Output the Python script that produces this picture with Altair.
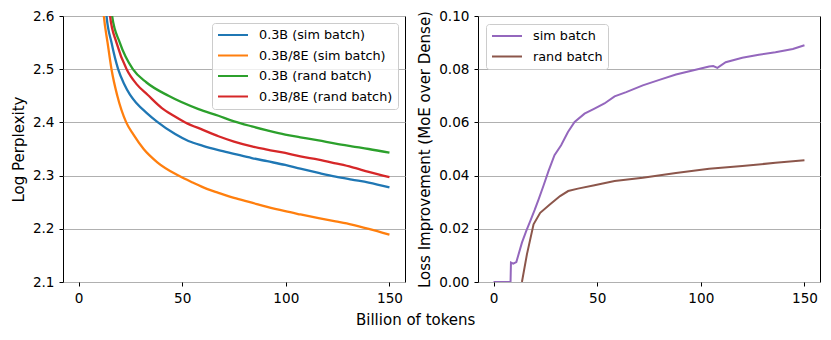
import altair as alt
import pandas as pd

# ---------------- Left panel: Log Perplexity ----------------
left_series = ["0.3B (sim batch)", "0.3B/8E (sim batch)", "0.3B (rand batch)", "0.3B/8E (rand batch)"]
left_colors = ["#1f77b4", "#ff7f0e", "#2ca02c", "#d62728"]

blue_x = [12.3, 13.5, 15.9, 19.1, 22.0, 24.8, 28.0, 32.8, 38.0, 46.6, 53, 60, 67.5, 75, 83.6, 91, 99.7, 107, 115.8, 124, 131.8, 140, 150]
blue_y = [2.66, 2.6, 2.55, 2.5, 2.472, 2.452, 2.436, 2.418, 2.401, 2.378, 2.365, 2.356, 2.348, 2.341, 2.333, 2.327, 2.32, 2.313, 2.305, 2.298, 2.2925, 2.287, 2.278]

orange_x = [11.0, 12.2, 14.0, 15.9, 18.7, 23.0, 26.5, 31.4, 38, 48.2, 55, 61.9, 67.5, 75, 83.6, 91, 99.7, 107, 115.8, 124, 131.8, 140, 150]
orange_y = [2.66, 2.6, 2.55, 2.5, 2.45, 2.4, 2.377, 2.35, 2.325, 2.3, 2.287, 2.275, 2.2675, 2.258, 2.249, 2.241, 2.233, 2.227, 2.22, 2.214, 2.208, 2.2, 2.189]

green_x = [15.0, 16.2, 19.9, 26.2, 32.8, 43.4, 57.9, 67.5, 75, 83.6, 91, 99.7, 107, 115.8, 124, 131.8, 140, 150]
green_y = [2.66, 2.6, 2.55, 2.5, 2.475, 2.45, 2.425, 2.4125, 2.402, 2.3925, 2.385, 2.377, 2.372, 2.366, 2.36, 2.355, 2.35, 2.343]

red_x = [13.9, 15.2, 18.3, 23.2, 28.0, 33.3, 40.2, 45.7, 51.5, 60, 67.5, 75, 83.6, 91, 99.7, 107, 115.8, 124, 131.8, 140, 150]
red_y = [2.66, 2.6, 2.55, 2.5, 2.472, 2.452, 2.427, 2.413, 2.4, 2.386, 2.374, 2.364, 2.355, 2.349, 2.3425, 2.336, 2.33, 2.323, 2.316, 2.307, 2.297]

# ---------------- Right panel: Loss improvement ----------------
right_series = ["sim batch", "rand batch"]
right_colors = ["#9467bd", "#8c564b"]

sim_x = [0, 8.2, 8.4, 9.5, 11.0, 13.7, 15.7, 17.7, 19.8, 21.7, 24.0, 26.5, 29.4, 32.6, 35.9, 39.1, 43.9, 48.7, 53.5, 58.4, 64, 72, 80, 88, 96, 104, 106, 108, 112, 120, 128, 136, 144.4, 150]
sim_y = [0, 0, 0.0073, 0.0069, 0.0075, 0.0148, 0.019, 0.0229, 0.027, 0.031, 0.036, 0.0417, 0.0477, 0.0514, 0.0564, 0.0602, 0.0633, 0.0652, 0.0671, 0.0698, 0.0714, 0.0739, 0.076, 0.078, 0.0795, 0.081, 0.0812, 0.0805, 0.0826, 0.0843, 0.0854, 0.0864, 0.0876, 0.089]

rand_x = [13.7, 16.1, 19.3, 22.5, 27.3, 32.1, 36.0, 40.7, 48.7, 58.4, 72, 88, 104, 120, 136, 150]
rand_y = [0.0, 0.0104, 0.0217, 0.026, 0.0292, 0.0323, 0.0342, 0.0351, 0.0364, 0.038, 0.0392, 0.041, 0.0426, 0.0436, 0.0448, 0.0458]

x_ticks = [0, 50, 100, 150]
left_y_ticks = [2.1, 2.2, 2.3, 2.4, 2.5, 2.6]
right_y_ticks = [0.0, 0.02, 0.04, 0.06, 0.08, 0.10]


def frame(name, xs, ys, order):
    return pd.DataFrame({"x": xs, "y": ys, "series": name, "k": order})


left_df = pd.concat([
    frame(left_series[0], blue_x, blue_y, 0),
    frame(left_series[1], orange_x, orange_y, 1),
    frame(left_series[2], green_x, green_y, 2),
    frame(left_series[3], red_x, red_y, 3),
], ignore_index=True)

right_df = pd.concat([
    frame(right_series[0], sim_x, sim_y, 0),
    frame(right_series[1], rand_x, rand_y, 1),
], ignore_index=True)

FONT = "DejaVu Sans"

legend_common = dict(
    title=None,
    symbolType="stroke",
    symbolSize=900,
    symbolStrokeWidth=2,
    labelFont=FONT,
    labelFontSize=12.8,
    labelColor="black",
    labelOffset=10,
    fillColor="rgba(255,255,255,0.8)",
    strokeColor="#cccccc",
    cornerRadius=3,
    padding=5,
    rowPadding=6.5,
    clipHeight=14,
)


def xenc():
    return alt.X("x:Q",
                 scale=alt.Scale(domain=[-7.5, 157.5], nice=False, zero=False),
                 axis=alt.Axis(values=x_ticks, format="d", title=None, grid=False))


left = alt.Chart(left_df).mark_line(strokeWidth=2.3, clip=True, interpolate="monotone").encode(
    x=xenc(),
    y=alt.Y("y:Q",
            scale=alt.Scale(domain=[2.1, 2.6], nice=False, zero=False),
            axis=alt.Axis(values=left_y_ticks, format=".1f", title="Log Perplexity", grid=True)),
    color=alt.Color("series:N",
                    scale=alt.Scale(domain=left_series, range=left_colors),
                    legend=alt.Legend(orient="top-right", offset=7, **legend_common)),
    detail="k:N",
).properties(width=342, height=266)

right = alt.Chart(right_df).mark_line(strokeWidth=2, clip=True).encode(
    x=xenc(),
    y=alt.Y("y:Q",
            scale=alt.Scale(domain=[0, 0.1], nice=False, zero=False),
            axis=alt.Axis(values=right_y_ticks, format=".2f",
                          title="Loss Improvement (MoE over Dense)", grid=True)),
    color=alt.Color("series:N",
                    scale=alt.Scale(domain=right_series, range=right_colors),
                    legend=alt.Legend(orient="top-left", offset=8, **legend_common)),
    detail="k:N",
).properties(width=342, height=266)

chart = alt.hconcat(left, right, spacing=11).resolve_scale(color="independent").properties(
    title=alt.TitleParams("Billion of tokens", orient="bottom", anchor="middle",
                          font=FONT, fontSize=15, fontWeight="normal", color="black", offset=8),
    padding={"left": 2, "top": 0, "right": 0, "bottom": 0},
).configure_view(
    stroke="black", strokeWidth=1
).configure_axis(
    domain=False,
    tickColor="black",
    tickSize=4,
    tickWidth=1,
    labelFont=FONT,
    labelFontSize=13.6,
    labelColor="black",
    labelPadding=5,
    titleFont=FONT,
    titleFontSize=15,
    titleFontWeight="normal",
    titleColor="black",
    titlePadding=6,
    gridColor="#b0b0b0",
    gridWidth=1,
).configure_axisY(
    labelFlush=False,
).configure_axisX(
    labelFlush=False,
)

chart.save("out.html", embed_options={"renderer": "svg", "actions": False})
